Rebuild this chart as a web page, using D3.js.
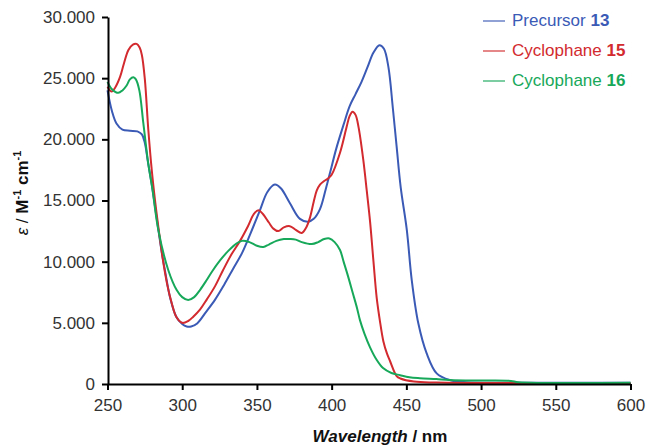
<!DOCTYPE html>
<html>
  <head>
    <meta charset="utf-8" />
    <script src="https://d3js.org/d3.v7.min.js"></script>
    <style>
      body {
        margin: 0;
        background: #fff;
        font-family: "Liberation Sans", Arial, sans-serif;
      }
      .axis path,
      .axis line {
        stroke: #000;
        stroke-width: 2px;
      }
      .axis text {
        font-size: 17px;
        fill: #333;
        font-family: "Liberation Sans", Arial, sans-serif;
      }
    </style>
  </head>
  <body>
    <svg id="chart" width="647" height="447"></svg>
    <script>
      // wavelength (nm) / epsilon (M-1 cm-1)
      var precursorWl = [250, 253, 256, 260, 265, 270, 273, 275, 277, 280, 283, 286, 289, 292, 296, 300, 303, 306, 310, 316, 322, 328, 334, 340, 346, 352, 357, 362, 366, 372, 378.8, 384.4, 388, 392.2, 396, 399, 403, 408, 412, 416, 420, 424, 428, 432, 435, 438, 441, 443.5, 446.2, 450.3, 453.6, 458, 463.6, 470.3, 479, 490, 520, 600];
      var precursorEps = [24000, 22300, 21300, 20800, 20700, 20650, 20400, 19700, 18200, 16000, 13500, 11000, 8900, 7000, 5500, 4900, 4700, 4700, 4950, 5900, 6900, 8100, 9400, 10700, 12400, 14200, 15700, 16300, 16000, 14800, 13500, 13270, 13500, 14300, 15900, 17300, 19200, 21200, 22700, 23700, 24700, 25900, 27100, 27700, 27400, 25900, 22500, 19400, 16100, 12600, 8500, 4960, 2500, 870, 330, 150, 110, 100];

      var cyclo15Wl = [250, 252.8, 255, 258.4, 261, 264, 267, 269.5, 271.5, 273, 275, 277.3, 279.6, 282, 284.5, 287, 290, 293, 296, 300, 304, 307.4, 312, 316.4, 322, 327.3, 333, 338.7, 344, 348, 351, 354, 358, 361, 364.3, 368, 372, 376, 380, 383, 385.5, 388, 390, 392.2, 395, 397.6, 400, 405.6, 410, 412, 414, 416, 418, 421.2, 423.5, 425.7, 428, 430.2, 432.5, 434.6, 437, 439, 443.5, 446, 455, 470, 600];
      var cyclo15Eps = [24300, 23900, 24200, 25100, 26200, 27300, 27750, 27800, 27500, 26900, 24900, 20800, 17500, 14800, 12400, 10200, 8100, 6600, 5500, 5000, 5150, 5500, 6100, 6900, 8000, 9300, 10600, 11700, 12900, 13900, 14200, 13900, 13200, 12700, 12500, 12800, 12900, 12600, 12350, 12800, 13600, 14900, 15800, 16300, 16600, 16800, 17100, 18900, 21000, 21900, 22260, 22000, 21000, 18300, 15800, 13300, 10000, 7000, 5000, 3500, 2500, 1900, 650, 450, 200, 120, 80];

      var cyclo16Wl = [250, 253, 257.2, 260, 262.8, 265, 267.3, 269, 271.3, 274, 277.3, 280, 284, 290.7, 296.3, 300, 304, 308, 312, 316.4, 320, 325.3, 331, 336.5, 340, 345, 350, 354.3, 358, 363, 368, 372, 376, 380, 386.7, 391, 395, 398.5, 402, 405.6, 408, 411, 414, 417, 419, 422, 425.7, 430, 434.4, 440, 445.8, 452, 459, 470, 479, 500, 520, 525, 600];
      var cyclo16Eps = [24700, 24100, 23800, 24000, 24400, 24900, 25070, 24900, 24000, 21300, 18000, 16000, 12600, 9300, 7680, 7100, 6870, 7100, 7700, 8500, 9200, 10100, 10900, 11500, 11700, 11600, 11300, 11200, 11400, 11700, 11850, 11850, 11800, 11600, 11440, 11600, 11850, 11900, 11600, 10950, 10000, 8800, 7500, 6200, 5200, 4100, 3000, 2000, 1300, 900, 720, 550, 470, 400, 330, 280, 250, 150, 100];

      var xTicks = [250, 300, 350, 400, 450, 500, 550, 600];
      var yTicks = [0, 5000, 10000, 15000, 20000, 25000, 30000];

      var seriesNames = ["Precursor ", "Cyclophane ", "Cyclophane "];
      var seriesNums = ["13", "15", "16"];
      var colors = ["#3a5ab6", "#d22a2e", "#17a85a"];

      var series = [
        d3.zip(precursorWl, precursorEps),
        d3.zip(cyclo15Wl, cyclo15Eps),
        d3.zip(cyclo16Wl, cyclo16Eps),
      ];

      var svg = d3.select("#chart");

      var x = d3.scaleLinear().domain([250, 600]).range([107.5, 630.5]);
      var y = d3.scaleLinear().domain([0, 30000]).range([384, 17]);

      var loc = d3.formatLocale({ decimal: ",", thousands: ".", grouping: [3], currency: ["", ""] });
      var fmt = loc.format(",");

      var line = d3
        .line()
        .x((d) => x(d[0]))
        .y((d) => y(d[1]))
        .curve(d3.curveCatmullRom.alpha(0.5));

      // curves first, axes drawn on top
      svg
        .selectAll("path.spec")
        .data(series)
        .enter()
        .append("path")
        .attr("class", "spec")
        .attr("fill", "none")
        .attr("stroke", (d, i) => colors[i])
        .attr("stroke-width", 2)
        .attr("stroke-linejoin", "round")
        .attr("d", line);

      svg
        .append("g")
        .attr("class", "axis")
        .attr("transform", "translate(0,384)")
        .call(d3.axisBottom(x).tickValues(xTicks).tickSize(6).tickSizeOuter(0).tickPadding(9))
        .call((g) => g.selectAll("text").attr("dy", "0.71em"));

      svg
        .append("g")
        .attr("class", "axis")
        .attr("transform", "translate(108,0)")
        .call(d3.axisLeft(y).tickValues(yTicks).tickFormat(fmt).tickSize(6).tickSizeOuter(0).tickPadding(7));

      // axis titles
      var xt = svg
        .append("text")
        .attr("x", 380)
        .attr("y", 442)
        .attr("text-anchor", "middle")
        .style("font-size", "17px")
        .style("font-weight", "bold")
        .attr("fill", "#111");
      xt.append("tspan").style("font-style", "italic").text("Wavelength");
      xt.append("tspan").text(" / nm");

      var yt = svg
        .append("text")
        .attr("transform", "translate(28,193) rotate(-90)")
        .attr("text-anchor", "middle")
        .style("font-size", "17px")
        .attr("fill", "#111");
      yt.append("tspan").style("font-style", "italic").text("ε");
      yt.append("tspan").text(" / ");
      yt.append("tspan").style("font-weight", "bold").text("M");
      yt.append("tspan").style("font-weight", "bold").style("font-size", "11px").attr("dy", -7).text("-1");
      yt.append("tspan").style("font-weight", "bold").attr("dy", 7).text(" cm");
      yt.append("tspan").style("font-weight", "bold").style("font-size", "11px").attr("dy", -7).text("-1");

      // legend
      var leg = svg
        .selectAll("g.leg")
        .data(seriesNums)
        .enter()
        .append("g")
        .attr("class", "leg")
        .attr("transform", (d, i) => "translate(483," + (20 + i * 30) + ")");

      leg
        .append("line")
        .attr("x1", 0)
        .attr("x2", 22)
        .attr("y1", 1)
        .attr("y2", 1)
        .attr("stroke", (d, i) => colors[i])
        .attr("stroke-width", 1.5)
        .attr("opacity", 0.75);

      var lt = leg
        .append("text")
        .attr("x", 29)
        .attr("y", 6)
        .style("font-size", "17px")
        .attr("fill", (d, i) => colors[i]);
      lt.append("tspan").text((d, i) => seriesNames[i]);
      lt.append("tspan").style("font-weight", "bold").text((d) => d);
    </script>
  </body>
</html>
